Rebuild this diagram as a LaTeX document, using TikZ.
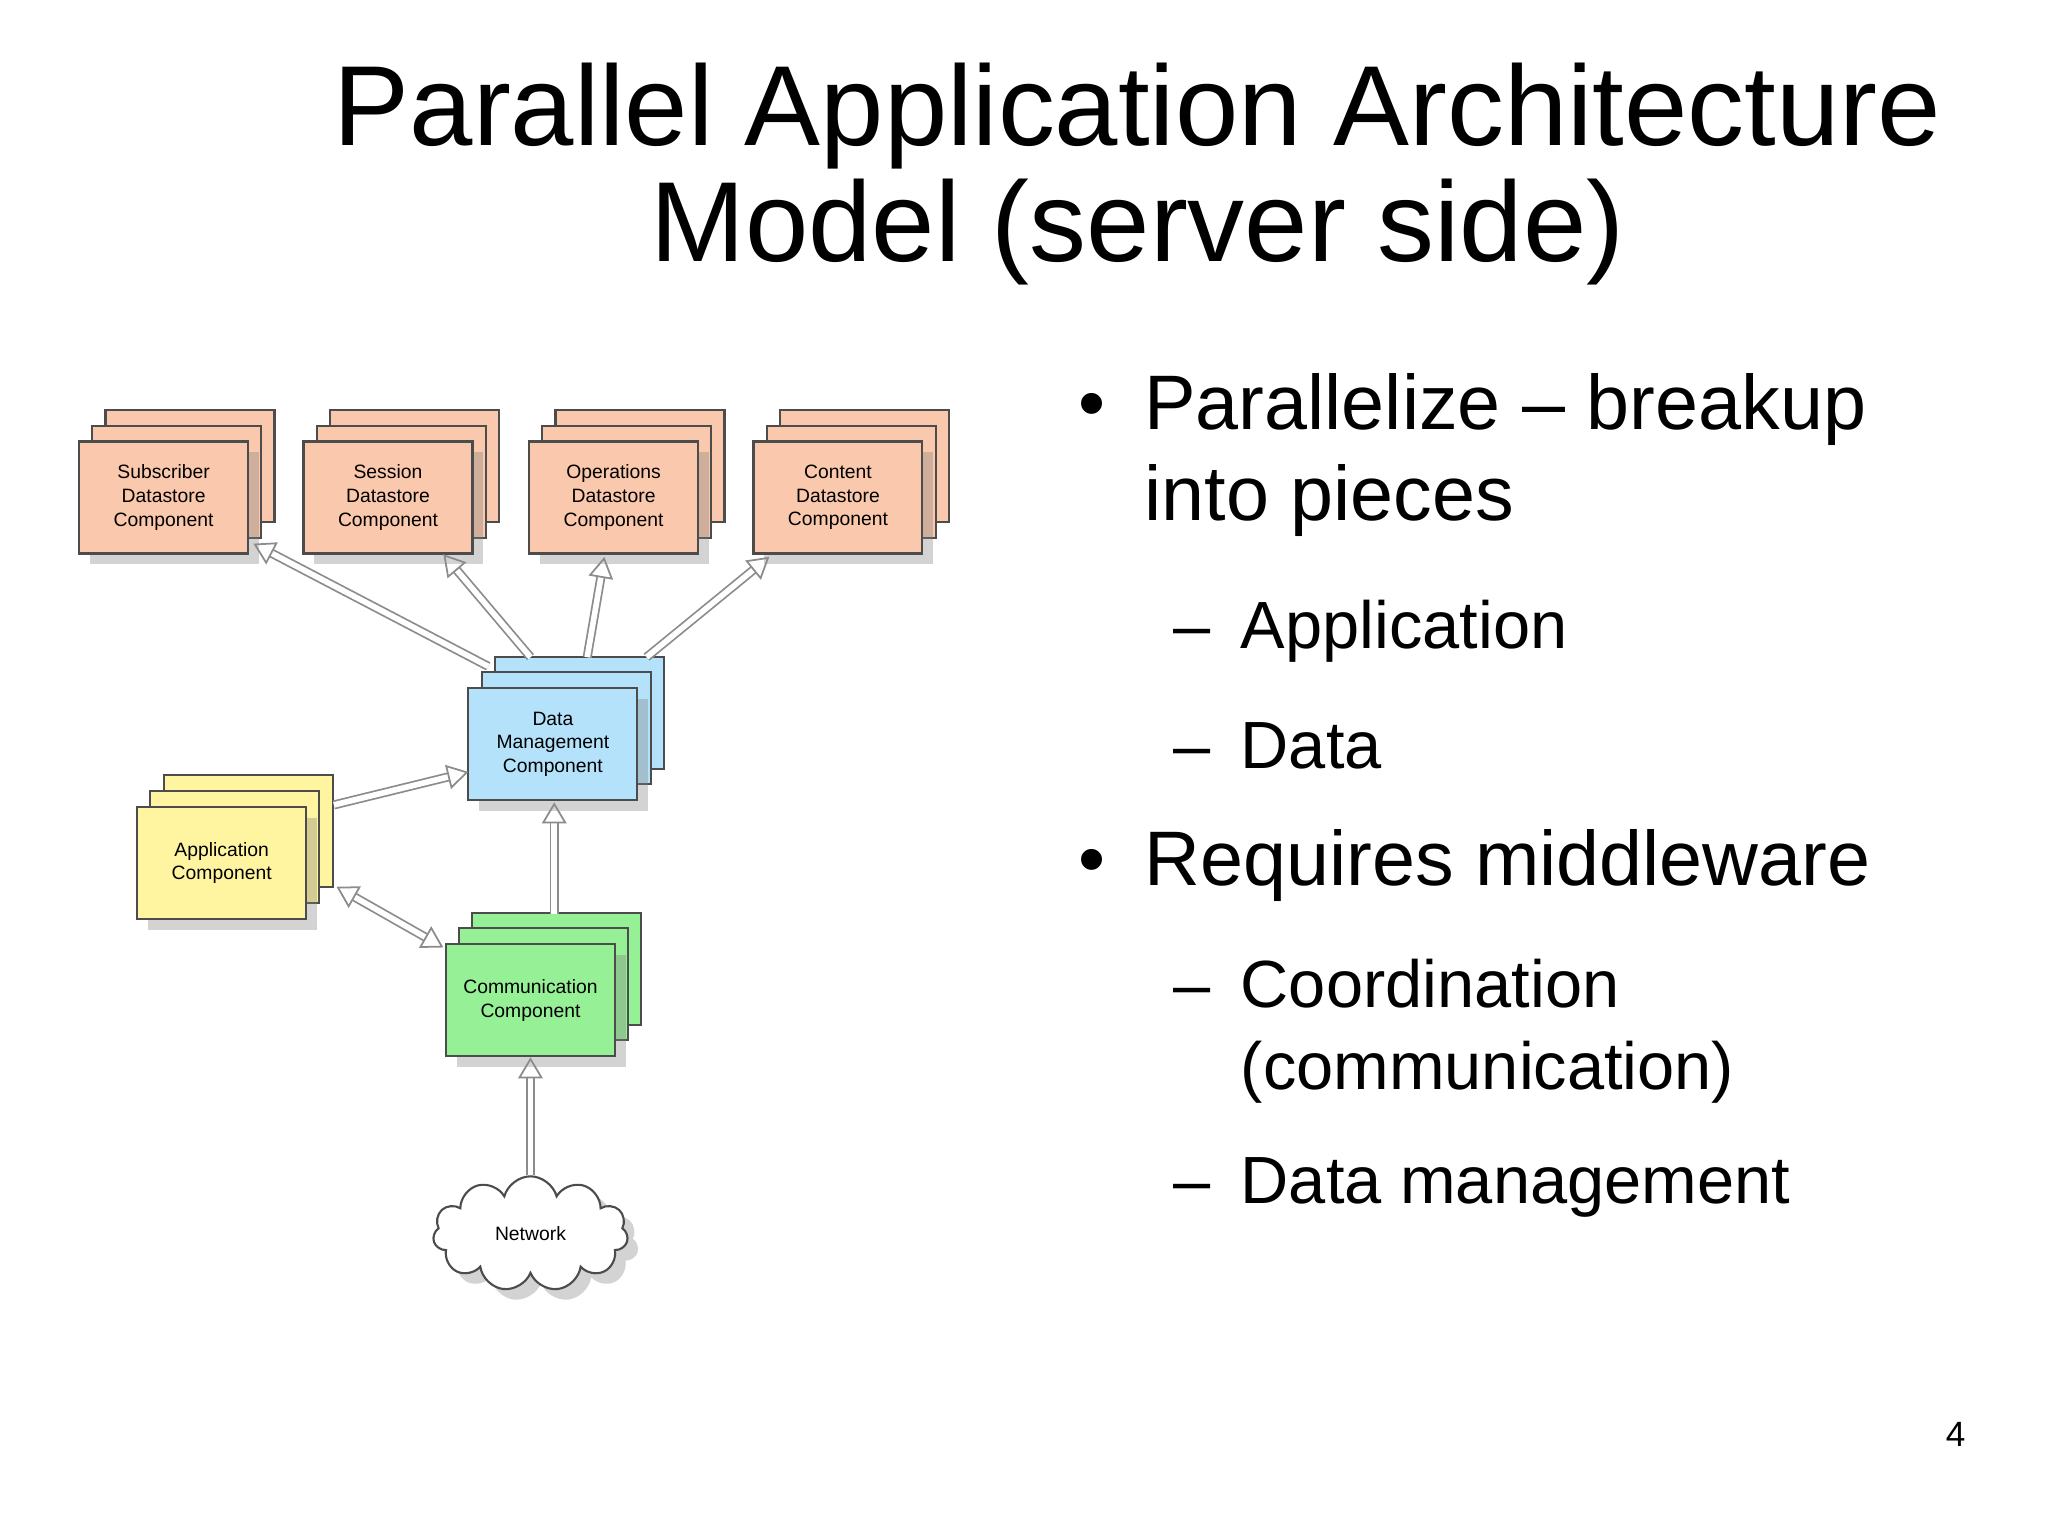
\documentclass[tikz,border=0pt]{standalone}
\usepackage{fontspec}
\setmainfont{Liberation Sans}
\usetikzlibrary{shapes.symbols,shadows,arrows.meta,calc}
\definecolor{salmon}{RGB}{250,200,172}
\definecolor{skyb}{RGB}{180,226,250}
\definecolor{lemon}{RGB}{255,245,160}
\definecolor{mint}{RGB}{150,240,150}
\newcommand\stackbox[5]{%
  \node[comp, fill=#4] at (#2+20,#3-24) {};
  \node[comp, fill=#4] at (#2+10,#3-12) {};
  \node[comp, fill=#4, drop shadow={opacity=0.35,shadow xshift=3pt,shadow yshift=-3pt}] (#1) at (#2,#3) {#5};
}
\begin{document}
\begin{tikzpicture}[x=0.013196cm,y=-0.013196cm,
  comp/.style={draw=black!70, line width=0.6pt, minimum width=1.69cm, minimum height=1.12cm,
    align=center, inner sep=0pt, font=\fontsize{5.5}{6.7}\selectfont},
  flow/.style={draw=black!45, double=white, double distance=1.6pt, line width=0.5pt,
    -{Triangle[open,length=6pt,width=7pt]}},
  flowb/.style={flow, {Triangle[open,length=6pt,width=7pt]}-{Triangle[open,length=6pt,width=7pt]}}]
\useasboundingbox (0,0) rectangle (1552,1163);
\node (t) at (862,136) {\fontsize{32.4}{32.5}\selectfont\begin{tabular}{c}Parallel Application Architecture\\Model (server side)\end{tabular}};

\stackbox{sub}{124}{377}{salmon}{Subscriber\\Datastore\\Component}
\stackbox{ses}{294}{377}{salmon}{Session\\Datastore\\Component}
\stackbox{ops}{465}{377}{salmon}{Operations\\Datastore\\Component}
\stackbox{con}{635}{377}{salmon}{Content\\Datastore\\Component}
\stackbox{dm}{419}{564}{skyb}{Data\\Management\\Component}
\stackbox{app}{168}{654}{lemon}{Application\\Component}
\stackbox{com}{402}{758}{mint}{Communication\\Component}
\node[cloud, cloud puffs=11, aspect=1.8, draw=black!70, fill=white, line width=0.6pt,
  minimum width=1.95cm, minimum height=1.15cm, font=\fontsize{5.5}{6.7}\selectfont,
  drop shadow={opacity=0.35,shadow xshift=3pt,shadow yshift=-3pt}] (net) at (402,935) {Network};

\draw[flow] ($(dm)+(-49,-59)$) -- ($(sub)+(68,35)$);
\draw[flow] ($(dm)+(-17,-66)$) -- ($(ses)+(42,43)$);
\draw[flow] ($(dm)+(26,-66)$) -- ($(ops)+(-7,45)$);
\draw[flow] ($(dm)+(71,-66)$) -- ($(con)+(-52,45)$);
\draw[flow] ($(app)+(85,-44)$) -- ($(dm)+(-64,21)$);
\draw[flowb] ($(app)+(87,18)$) -- ($(com)+(-66,-40)$);
\draw[flow] ($(com)+(18,-65)$) -- ($(dm)+(1,44)$);
\draw[flow] (net.north) -- (com.south);

\node[anchor=west, font=\fontsize{22}{26}\selectfont, align=left] (b1) at (808,346)
  {•\hspace{0.5em}\begin{tabular}[t]{@{}l@{}}Parallelize – breakup\\into pieces\end{tabular}};
\node[anchor=west, font=\fontsize{19}{23}\selectfont] (s1) at (880,478) {–\hspace{0.45em}Application};
\node[anchor=west, font=\fontsize{19}{23}\selectfont] (s2) at (880,565) {–\hspace{0.45em}Data};
\node[anchor=west, font=\fontsize{22}{26}\selectfont] (b2) at (808,656) {•\hspace{0.5em}Requires middleware};
\node[anchor=west, font=\fontsize{19}{23.5}\selectfont] (s3) at (880,782)
  {–\hspace{0.45em}\begin{tabular}[t]{@{}l@{}}Coordination\\(communication)\end{tabular}};
\node[anchor=west, font=\fontsize{19}{23}\selectfont] (s4) at (880,900) {–\hspace{0.45em}Data management};
\node[font=\fontfamily{lmr}\fontsize{10}{12}\selectfont\rmfamily] (pg) at (1482,1087) {4};
\end{tikzpicture}
\end{document}
